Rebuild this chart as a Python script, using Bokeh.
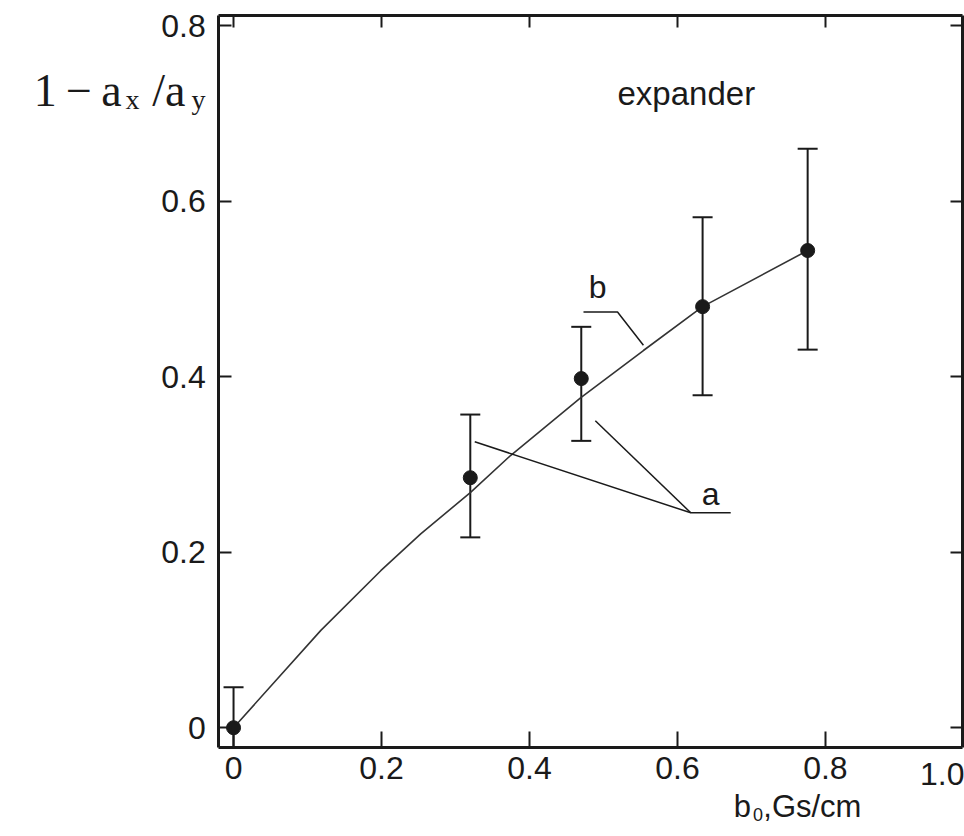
from bokeh.plotting import figure
from bokeh.models import (ColumnDataSource, Whisker, TeeHead, Label, FixedTicker,
                          LinearAxis, Range1d)
from bokeh.embed import file_html
from bokeh.resources import INLINE

# ---- data ----
b0 = [0.0, 0.32, 0.47, 0.634, 0.776]
ratio = [0.0, 0.285, 0.398, 0.480, 0.544]
err_hi = [0.046, 0.357, 0.457, 0.582, 0.660]
err_lo = [-0.023, 0.217, 0.327, 0.379, 0.431]

curve_b0 = [0.0, 0.118, 0.199, 0.253, 0.32, 0.374, 0.469, 0.554, 0.634, 0.776]
curve_ratio = [0.0, 0.111, 0.179, 0.221, 0.268, 0.310, 0.376, 0.430, 0.480, 0.544]

x_ticks = [0, 0.2, 0.4, 0.6, 0.8, 1.0]
y_ticks = [0, 0.2, 0.4, 0.6, 0.8]

# plotting box (axes) and the whole canvas in data units
box_x = (-0.02, 0.985)
box_y = (-0.023, 0.812)
view_x = (-0.315, 0.988)
view_y = (-0.124, 0.829)

INK = "#1a1a1a"
SANS = "Liberation Sans"
SERIF = "Liberation Serif"

p = figure(width=964, height=836, output_backend="svg", toolbar_location=None,
           x_range=Range1d(*view_x), y_range=Range1d(*view_y),
           min_border_left=0, min_border_right=0, min_border_top=0,
           min_border_bottom=0, background_fill_color="white",
           border_fill_color="white", x_axis_location=None, y_axis_location=None)
p.grid.visible = False
p.outline_line_color = None


def make_axis(loc, ticks, fixed, bounds, width, tick_len, labels):
    ax = LinearAxis(ticker=FixedTicker(ticks=ticks), fixed_location=fixed, bounds=bounds,
                    major_tick_in=tick_len, major_tick_out=0, minor_tick_line_color=None,
                    axis_line_width=width, axis_line_color=INK,
                    major_tick_line_width=2, major_tick_line_color=INK)
    if labels:
        ax.major_label_text_font = SANS
        ax.major_label_text_font_size = "32px"
        ax.major_label_text_color = INK
    else:
        ax.major_label_text_font_size = "0px"
        ax.major_label_overrides = {t: "" for t in ticks}
    p.add_layout(ax, loc)
    return ax


bx = make_axis("below", x_ticks, box_y[0], box_x, 3, 16, True)
bx.major_label_standoff = 9
ly = make_axis("left", y_ticks, box_x[0], box_y, 3, 13, True)
ly.major_label_standoff = 13
make_axis("above", x_ticks, box_y[1], box_x, 3, 12, False)
make_axis("right", y_ticks, box_x[1], box_y, 3, 12, False)

# ---- curve b ----
p.line(curve_b0, curve_ratio, line_color="#333333", line_width=1.6)

# ---- data points with error bars ----
src = ColumnDataSource(dict(x=b0, y=ratio, hi=err_hi, lo=err_lo))
p.add_layout(Whisker(source=src, base="x", upper="hi", lower="lo", dimension="height",
                     line_color=INK, line_width=2,
                     upper_head=TeeHead(size=20, line_width=2, line_color=INK),
                     lower_head=TeeHead(size=20, line_width=2, line_color=INK)))
p.scatter("x", "y", source=src, size=14, fill_color=INK, line_color=INK)

# ---- leader lines for labels ----
p.line([0.473, 0.519, 0.554], [0.474, 0.474, 0.436], line_color=INK, line_width=1.5)
p.line([0.326, 0.618, 0.672], [0.326, 0.245, 0.245], line_color=INK, line_width=1.5)
p.line([0.489, 0.618], [0.350, 0.245], line_color=INK, line_width=1.5)


def lab(x, y, t, size, font=SANS, align="left", base="middle"):
    p.add_layout(Label(x=x, y=y, text=t, text_font=font, text_font_size=size,
                       text_color=INK, text_align=align, text_baseline=base))


lab(0.492, 0.502, "b", "32px", align="center")
lab(0.645, 0.267, "a", "32px", align="center")
lab(0.519, 0.723, "expander", "33px")

# tick label 1.0 (cut by the right edge in the source; kept fully inside here)
lab(view_x[1], -0.053, "1.0", "32px", align="right")

# y-axis title: 1 - a_x / a_y
lab(-0.270, 0.726, "1\u2009\u2212\u2009a", "46px", font=SERIF, base="alphabetic")
lab(-0.146, 0.716, "x", "28px", font=SERIF, base="alphabetic")
lab(-0.110, 0.726, "/a", "46px", font=SERIF, base="alphabetic")
lab(-0.057, 0.716, "y", "28px", font=SERIF, base="alphabetic")

# x-axis title: b0, Gs/cm
lab(0.676, -0.090, "b", "31px", base="alphabetic")
lab(0.702, -0.099, "0", "18px", base="alphabetic")
lab(0.716, -0.090, ",Gs/cm", "31px", base="alphabetic")

open("out.html", "w").write(file_html(p, INLINE))
